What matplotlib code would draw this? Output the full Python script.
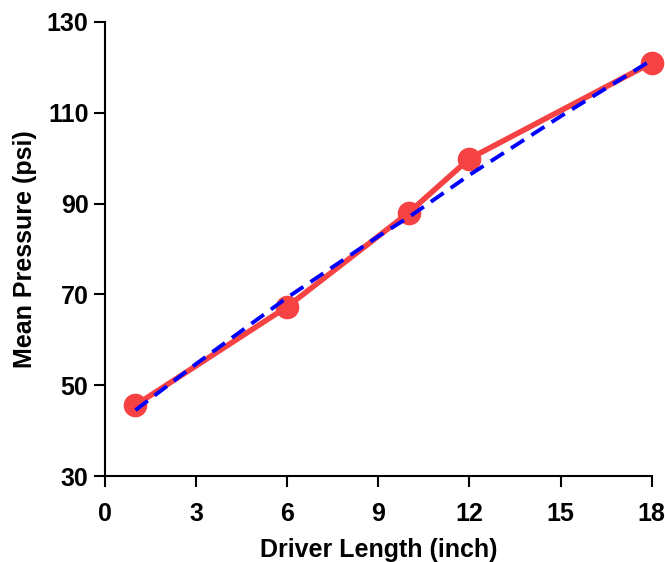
import matplotlib
matplotlib.use('Agg')
import matplotlib.pyplot as plt

length = [1, 6, 10, 12, 18]
pressure = [45.6, 67.3, 88.0, 99.9, 121.0]

# dashed trend curve
fit_x = [1, 3, 6, 9, 10, 12, 15, 18]
fit_y = [44.5, 54.7, 69.3, 82.8, 87.0, 96.3, 109.2, 121.6]

plt.rcParams['font.family'] = ['Liberation Sans', 'DejaVu Sans']
plt.rcParams['font.weight'] = 'bold'

fig = plt.figure(figsize=(6.65, 5.62), dpi=100)
ax = fig.add_axes([0.158, 0.153, 0.822, 0.808])

ax.plot(length, pressure, color='#f64242', linewidth=4.0, marker='o',
        markersize=16, clip_on=False, zorder=2)
ax.plot(fit_x, fit_y, color='#0000ff', linewidth=2.8, linestyle=(0, (4, 2.2)),
        clip_on=False, zorder=3)

ax.set_xlim(0, 18)
ax.set_ylim(30, 130)
ax.set_xticks([0, 3, 6, 9, 12, 15, 18])
ax.set_yticks([30, 50, 70, 90, 110, 130])

for side in ['top', 'right']:
    ax.spines[side].set_visible(False)
for side in ['left', 'bottom']:
    ax.spines[side].set_linewidth(1.5)

ax.tick_params(direction='out', length=8, width=1.5, labelsize=18)
ax.tick_params(axis='x', pad=11)
ax.tick_params(axis='y', pad=4)
for lbl in ax.get_xticklabels() + ax.get_yticklabels():
    lbl.set_fontweight('bold')

ax.set_xlabel('Driver Length (inch)', fontsize=18, fontweight='bold', labelpad=8)
ax.set_ylabel('Mean Pressure (psi)', fontsize=18, fontweight='bold', labelpad=7)

fig.savefig('out.png', dpi=100)
